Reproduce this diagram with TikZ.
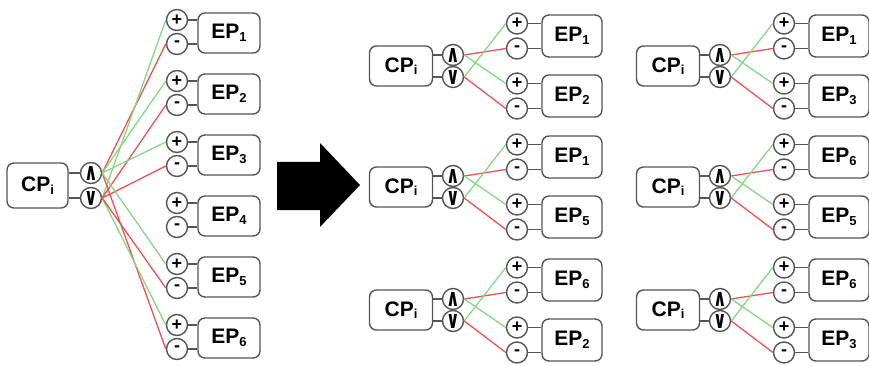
\documentclass[tikz,border=0pt]{standalone}
\usepackage{fontspec}
\usepackage{graphicx}
\setmainfont{Liberation Sans}
\newfontfamily\djv{DejaVu Sans}
\definecolor{edgegray}{HTML}{555555}
\definecolor{lgreen}{HTML}{86D686}
\definecolor{lred}{HTML}{EC5252}
\newcommand\lbl[2]{{\fontsize{21}{21}\selectfont\bfseries #1\raisebox{-2.5pt}{\fontsize{13}{13}\selectfont #2}}}
\newcommand\andsym{{\djv\bfseries\fontsize{22}{22}\selectfont\scalebox{0.76}[1.1]{∧}}}
\newcommand\orsym{{\djv\bfseries\fontsize{22}{22}\selectfont\scalebox{0.76}[1.1]{∨}}}
\newcommand\plussym{{\bfseries\fontsize{18}{18}\selectfont +}}
\newcommand\minussym{{\bfseries\fontsize{18}{18}\selectfont -}}
\tikzset{
  box/.style={draw=edgegray, line width=1.4pt, rounded corners=7pt, minimum width=62pt, minimum height=41pt, inner sep=0pt},
  pin/.style={circle, draw=edgegray, line width=1.4pt, minimum size=21pt, inner sep=0pt},
  link/.style={draw=edgegray, line width=1.4pt},
  gw/.style={draw=lgreen, line width=1.3pt},
  rw/.style={draw=lred, line width=1.3pt},
}
% panel: name, X, Y, label a, label b
\newcommand\drawpanel[5]{%
  \node[box, minimum width=63pt, minimum height=40pt] (#1cp) at (#2,#3) {\lbl{CP}{i}};
  \node[pin] (#1and) at ($(#2,#3)+(52,-11)$) {\andsym};
  \node[pin] (#1or) at ($(#2,#3)+(52,11)$) {\orsym};
  \node[box, minimum width=60pt, minimum height=42pt] (#1epa) at ($(#2,#3)+(171,-30)$) {\lbl{EP}{#4}};
  \node[box, minimum width=60pt, minimum height=42pt] (#1epb) at ($(#2,#3)+(171,30)$) {\lbl{EP}{#5}};
  \node[pin] (#1pa) at ($(#2,#3)+(116,-42.5)$) {\plussym};
  \node[pin] (#1ma) at ($(#2,#3)+(116,-17.5)$) {\minussym};
  \node[pin] (#1pb) at ($(#2,#3)+(116,17.5)$) {\plussym};
  \node[pin] (#1mb) at ($(#2,#3)+(116,42.5)$) {\minussym};
  \draw[link] (#1and.west) -- (#1and.west -| #1cp.east);
  \draw[link] (#1or.west) -- (#1or.west -| #1cp.east);
  \draw[link] (#1pa.east) -- (#1pa.east -| #1epa.west);
  \draw[link] (#1ma.east) -- (#1ma.east -| #1epa.west);
  \draw[link] (#1pb.east) -- (#1pb.east -| #1epb.west);
  \draw[link] (#1mb.east) -- (#1mb.east -| #1epb.west);
  \draw[rw] (#1and.east) -- (#1ma.west);
  \draw[gw] (#1or.east) -- (#1pa.west);
  \draw[gw] (#1and.east) -- (#1pb.west);
  \draw[rw] (#1or.east) -- (#1mb.west);
}
\usetikzlibrary{calc}
\begin{document}
\begin{tikzpicture}[x=1pt,y=-1pt]
\useasboundingbox (0,0) rectangle (869,366);
% left panel
\node[box, minimum width=61pt, minimum height=45pt] (Lcp) at (37.5,185.5) {\lbl{CP}{i}};
\node[pin] (Land) at (91,173) {\andsym};
\node[pin] (Lor) at (91,198) {\orsym};
\draw[link] (Land.west) -- (Land.west -| Lcp.east);
\draw[link] (Lor.west) -- (Lor.west -| Lcp.east);
\foreach \k/\yy in {1/33,2/94,3/155,4/216,5/277,6/338}{
  \node[box, minimum width=62pt, minimum height=40pt] (Lep\k) at (229,\yy) {\lbl{EP}{\k}};
  \node[pin] (Lp\k) at (177,\yy-13) {\plussym};
  \node[pin] (Lm\k) at (177,\yy+11) {\minussym};
  \draw[link] (Lp\k.east) -- (Lp\k.east -| Lep\k.west);
  \draw[link] (Lm\k.east) -- (Lm\k.east -| Lep\k.west);
}
% EP1, EP6: and-red to minus, or-green to plus
\draw[rw] (Land.east) -- (Lm1.west);
\draw[gw] (Lor.east) -- (Lp1.west);
\draw[rw] (Land.east) -- (Lm6.west);
\draw[gw] (Lor.east) -- (Lp6.west);
% EP2, EP3, EP5: and-green to plus, or-red to minus
\draw[gw] (Land.east) -- (Lp2.west);
\draw[rw] (Lor.east) -- (Lm2.west);
\draw[gw] (Land.east) -- (Lp3.west);
\draw[rw] (Lor.east) -- (Lm3.west);
\draw[gw] (Land.east) -- (Lp5.west);
\draw[rw] (Lor.east) -- (Lm5.west);
% arrow
\fill[black] (277,162) -- (320,162) -- (320,143) -- (360,185) -- (320,227) -- (320,210) -- (277,210) -- cycle;
% right panels
\drawpanel{A}{401}{66}{1}{2}
\drawpanel{B}{401}{187}{1}{5}
\drawpanel{C}{401}{310}{6}{2}
\drawpanel{D}{668}{66}{1}{3}
\drawpanel{E}{668}{187}{6}{5}
\drawpanel{F}{668}{310}{6}{3}
\end{tikzpicture}
\end{document}
